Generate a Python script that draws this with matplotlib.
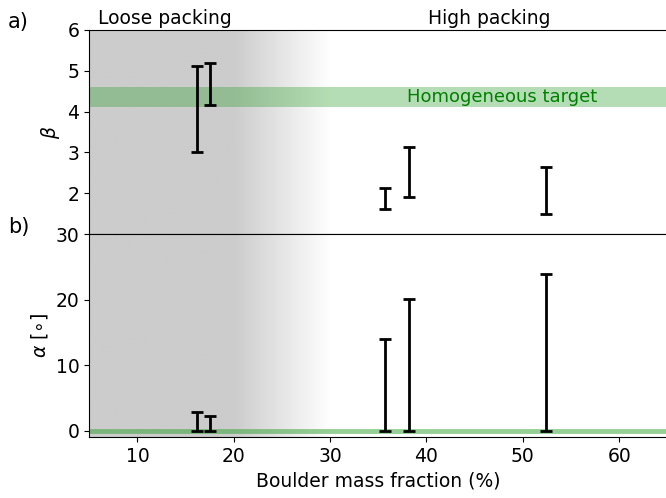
import matplotlib
matplotlib.use('Agg')
import matplotlib.pyplot as plt
import numpy as np

plt.rcParams.update({'font.size': 13.5,
                     'xtick.labelsize': 13.5,
                     'ytick.labelsize': 13.5,
                     'axes.labelsize': 13.5})

# boulder mass fraction (%)
frac = [16.2, 17.5, 35.7, 38.2, 52.4]
# beta ranges (low, high)
beta_lo = [3.0, 4.15, 1.62, 1.9, 1.5]
beta_hi = [5.12, 5.2, 2.13, 3.13, 2.63]
# alpha ranges (deg)
alpha_lo = [0.0, 0.0, 0.0, 0.0, 0.0]
alpha_hi = [2.9, 2.3, 14.0, 20.1, 23.9]

beta_target = (4.1, 4.6)
alpha_target = 0.0

loose_end = 20.0
fade_end = 30.0
xmin, xmax = 5, 65

fig = plt.figure(figsize=(6.66, 4.98), dpi=100)
ax1 = fig.add_axes([0.134, 0.530, 0.868, 0.410])
ax2 = fig.add_axes([0.134, 0.122, 0.868, 0.408], sharex=ax1)

# gray shading: solid for loose packing, fading to white
xs = np.linspace(xmin, xmax, 600)
shade = np.clip((xs - loose_end) / (fade_end - loose_end), 0, 1)
grey = 0.8 + 0.2 * shade
img = np.repeat(np.stack([grey, grey, grey], axis=-1)[None, :, :], 2, axis=0)


def draw(ax, lo, hi, ylim):
    ax.imshow(img, extent=[xmin, xmax, ylim[0], ylim[1]], aspect='auto',
              zorder=0, interpolation='bilinear')
    lo = np.array(lo)
    hi = np.array(hi)
    mid = (lo + hi) / 2
    ax.errorbar(frac, mid, yerr=[mid - lo, hi - mid], fmt='none', ecolor='k',
                elinewidth=2, capsize=4.5, capthick=2, zorder=3)
    ax.set_xlim(xmin, xmax)
    ax.set_ylim(*ylim)


draw(ax1, beta_lo, beta_hi, (1, 6))
ax1.axhspan(beta_target[0], beta_target[1], color='tab:green', alpha=0.35,
            lw=0, zorder=1)
ax1.text(47.9, np.mean(beta_target), 'Homogeneous target', color='green',
         ha='center', va='center', fontsize=13, zorder=2)
ax1.set_ylabel(r'$\beta$')
ax1.set_yticks([2, 3, 4, 5, 6])
ax1.tick_params(labelbottom=False, bottom=False)
ax1.text(12.9, 6.05, 'Loose packing', ha='center', va='bottom')
ax1.text(46.5, 6.05, 'High packing', ha='center', va='bottom')

draw(ax2, alpha_lo, alpha_hi, (-1, 30))
ax2.axhline(alpha_target, color='tab:green', alpha=0.5, lw=3.5, zorder=1)
ax2.set_ylabel(r'$\alpha$ [$\circ$]')
ax2.set_yticks([0, 10, 20, 30])
ax2.set_xticks([10, 20, 30, 40, 50, 60])
ax2.set_xlabel('Boulder mass fraction (%)')

for ax in (ax1, ax2):
    ax.spines['right'].set_visible(False)

fig.text(0.012, 0.955, 'a)', fontsize=15, va='center')
fig.text(0.012, 0.545, 'b)', fontsize=15, va='center')

fig.savefig('out.png', dpi=100)
